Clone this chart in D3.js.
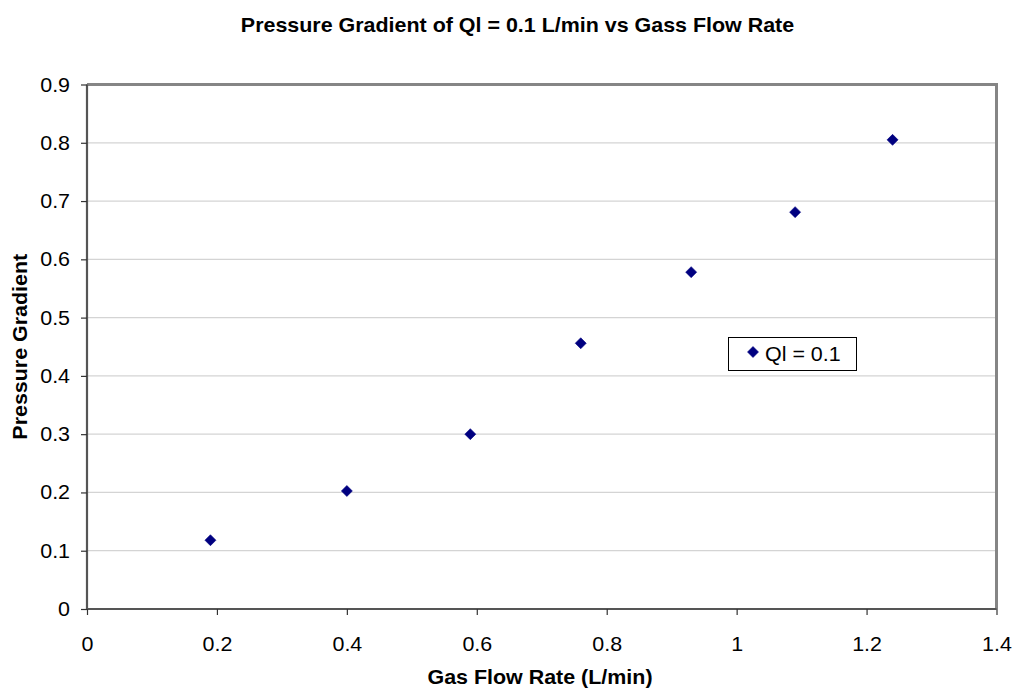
<!DOCTYPE html>
<html><head><meta charset="utf-8">
<script src="https://cdn.jsdelivr.net/npm/d3@7"></script>
<style>body{margin:0;background:#fff;font-family:"Liberation Sans",Arial,sans-serif;}</style>
</head><body>
<svg id="c" width="1016" height="694"></svg>
<script>
const gasFlow = [0.19, 0.40, 0.59, 0.76, 0.93, 1.09, 1.24];
const pressureGradient = [0.118, 0.2025, 0.300, 0.456, 0.578, 0.681, 0.805];
const xTicks = [0, 0.2, 0.4, 0.6, 0.8, 1, 1.2, 1.4];
const yTicks = [0, 0.1, 0.2, 0.3, 0.4, 0.5, 0.6, 0.7, 0.8, 0.9];
const seriesName = "Ql = 0.1";
const titleText = "Pressure Gradient of Ql = 0.1 L/min vs Gass Flow Rate";
const xTitle = "Gas Flow Rate (L/min)";
const yTitle = "Pressure Gradient";

const FS = 19.5, SX = 1.1;
const svg = d3.select("#c");
const L = 87, R = 996.5, T = 84.5, B = 609;
const x = d3.scaleLinear().domain([0, 1.4]).range([L, R]);
const y = d3.scaleLinear().domain([0, 0.9]).range([B, T]);

// gridlines
svg.append("g").selectAll("line").data(yTicks.filter(d => d > 0 && d < 0.9)).join("line")
  .attr("x1", L).attr("x2", R).attr("y1", d => y(d)).attr("y2", d => y(d))
  .attr("stroke", "#d4d4d4").attr("stroke-width", 1.3);

// plot border top/right (gray)
svg.append("path").attr("d", `M${L},${T}H${R}V${B}`).attr("fill", "none")
  .attr("stroke", "#858585").attr("stroke-width", 3);

// axes
const fmt = d => d3.format("~g")(d);
const yAxis = d3.axisLeft(y).tickValues(yTicks).tickSize(6).tickPadding(10).tickFormat(fmt);
const gy = svg.append("g").attr("transform", `translate(${L},0)`).call(yAxis);
const xAxis = d3.axisBottom(x).tickValues(xTicks).tickSize(6).tickPadding(14).tickFormat(fmt);
const gx = svg.append("g").attr("transform", `translate(0,${B})`).call(xAxis);
[gx, gy].forEach(g => {
  g.select(".domain").attr("stroke", "#555").attr("stroke-width", 2.2);
  g.selectAll(".tick line").attr("stroke", "#333").attr("stroke-width", 1.2);
  g.selectAll("text").attr("font-family", "Liberation Sans, Arial, sans-serif").attr("font-size", FS).attr("fill", "#000")
    .attr("transform", `scale(${SX},1)`);
});
gy.selectAll(".tick text").attr("x", -17 / SX).attr("dy", null).attr("y", 6.5);
gx.selectAll(".tick text").attr("dy", null).attr("y", 42);
gy.select(".domain").attr("d", `M0,${T}V${B}`);
gx.select(".domain").attr("d", `M${L},0H${R}`);

// points
const diamond = (cx, cy, s) => `M${cx},${cy - s}L${cx + s},${cy}L${cx},${cy + s}L${cx - s},${cy}Z`;
svg.append("g").selectAll("path").data(gasFlow.map((g, i) => [g, pressureGradient[i]])).join("path")
  .attr("d", d => diamond(x(d[0]), y(d[1]), 5.5))
  .attr("fill", "#000080").attr("stroke", "#000080").attr("stroke-width", 0.6).attr("stroke-linejoin", "round");

// helper for stretched text
function stext(parent, px, py, str, opts = {}) {
  const g = parent.append("g").attr("transform", `translate(${px},${py})${opts.rotate ? ` rotate(${opts.rotate})` : ""} scale(${SX},1)`);
  return g.append("text").attr("font-size", FS).attr("text-anchor", opts.anchor || "start")
    .attr("font-weight", opts.bold ? "bold" : null).text(str);
}

// legend
const lg = svg.append("g");
lg.append("rect").attr("x", 728.5).attr("y", 337.5).attr("width", 128).attr("height", 33)
  .attr("fill", "#fff").attr("stroke", "#000").attr("stroke-width", 1);
lg.append("path").attr("d", diamond(753, 352, 5.5)).attr("fill", "#000080")
  .attr("stroke", "#000080").attr("stroke-width", 0.6).attr("stroke-linejoin", "round");
stext(lg, 765, 360.5, seriesName);

// titles
stext(svg, 517.5, 31.7, titleText, { anchor: "middle", bold: true });
stext(svg, 540, 684, xTitle, { anchor: "middle", bold: true });
stext(svg, 27, (T + B) / 2, yTitle, { anchor: "middle", bold: true, rotate: -90 });
</script>
</body></html>
